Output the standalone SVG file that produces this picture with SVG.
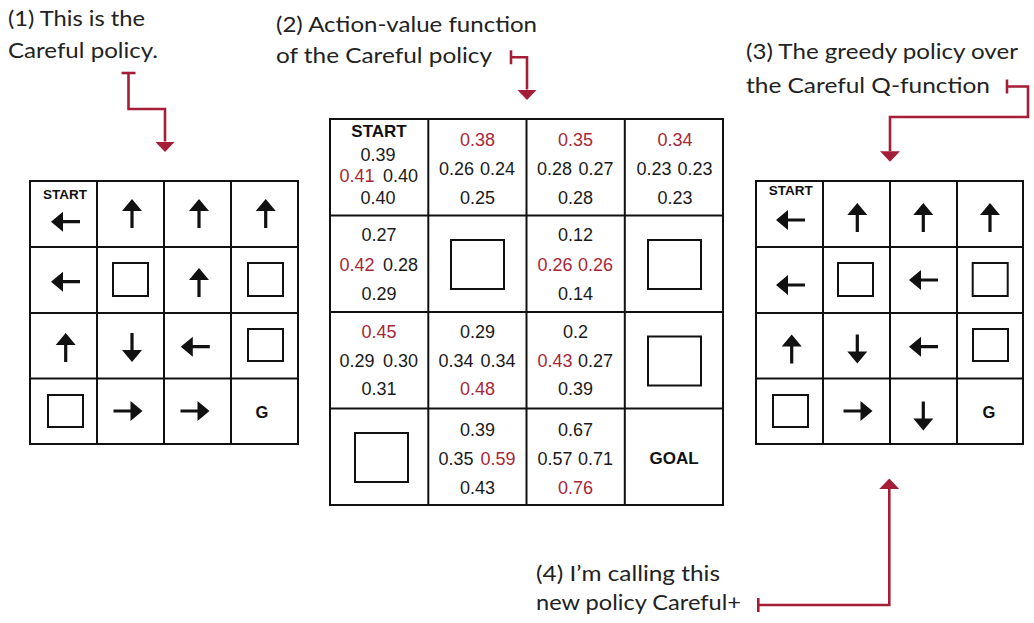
<svg xmlns="http://www.w3.org/2000/svg" xmlns:xlink="http://www.w3.org/1999/xlink" width="1034" height="623" viewBox="0 0 1034 623">
<style>
.note{font-family:Lato,"Noto Sans",sans-serif;font-size:21px;fill:#222}
.grid{fill:#fff;stroke:#111;stroke-width:2}
.gl{stroke:#111;stroke-width:2;fill:none}
.obs{fill:#fff;stroke:#111;stroke-width:2}
.num{font-family:"Liberation Sans",Arial,sans-serif;font-size:18px;fill:#1a1a1a;text-anchor:middle}
.red{fill:#A82739}
.lbl{font-family:"Liberation Sans",Arial,sans-serif;font-weight:bold;fill:#111;text-anchor:middle}
.conn{fill:none;stroke:#A51E37;stroke-width:2.6}
.arw{fill:#111}
</style>
<defs>
<path id="ar" d="M0,-14.5 L10,-2.5 L1.6,-2.5 L1.6,14.5 L-1.6,14.5 L-1.6,-2.5 L-10,-2.5 Z"/>
<marker id="head" markerUnits="userSpaceOnUse" viewBox="0 0 10.5 20" refX="0" refY="10" markerWidth="10.5" markerHeight="20" orient="auto">
<path d="M0,0 L10.5,10 L0,20 Z" fill="#A51E37"/>
</marker>
<marker id="tee" markerUnits="userSpaceOnUse" viewBox="-2 -8 4 16" refX="0" refY="0" markerWidth="4" markerHeight="16" orient="auto">
<path d="M0,-7 L0,7" stroke="#A51E37" stroke-width="2.6"/>
</marker>
</defs>
<rect width="1034" height="623" fill="#fff"/>

<g id="note1">
<text class="note" x="8" y="26" textLength="137" lengthAdjust="spacingAndGlyphs">(1) This is the</text>
<text class="note" x="8" y="58" textLength="150" lengthAdjust="spacingAndGlyphs">Careful policy.</text>
</g>
<g id="note2">
<text class="note" x="276" y="32" textLength="261" lengthAdjust="spacingAndGlyphs">(2) Action-value function</text>
<text class="note" x="276" y="63" textLength="216" lengthAdjust="spacingAndGlyphs">of the Careful policy</text>
</g>
<g id="note3">
<text class="note" x="746" y="59" textLength="272" lengthAdjust="spacingAndGlyphs">(3) The greedy policy over</text>
<text class="note" x="746" y="92.5" textLength="244" lengthAdjust="spacingAndGlyphs">the Careful Q-function</text>
</g>
<g id="note4">
<text class="note" x="536" y="581" textLength="184" lengthAdjust="spacingAndGlyphs">(4) I’m calling this</text>
<text class="note" x="536" y="610" textLength="205" lengthAdjust="spacingAndGlyphs">new policy Careful+</text>
</g>

<g id="connectors">
<path class="conn" marker-start="url(#tee)" marker-end="url(#head)" d="M128.5,73 V109 H165 V141.5"/>
<path class="conn" marker-start="url(#tee)" marker-end="url(#head)" d="M511,57.3 H527 V89.5"/>
<path class="conn" marker-start="url(#tee)" marker-end="url(#head)" d="M1007,86.5 H1028 V117 H890 V151.2"/>
<path class="conn" marker-start="url(#tee)" marker-end="url(#head)" d="M758.3,605 H889.3 V489"/>
</g>

<g id="careful-policy">
<rect class="grid" x="30" y="181" width="268" height="263"/>
<path class="gl" d="M97,181 V444 M164,181 V444 M231,181 V444 M30,247 H298 M30,313 H298 M30,378.5 H298"/>
<text class="lbl" x="65" y="199" font-size="13.5">START</text>
<text class="lbl" x="262" y="417.5" font-size="16.5">G</text>
<rect class="obs" x="113" y="263" width="35" height="33"/>
<rect class="obs" x="248" y="263" width="35" height="33"/>
<rect class="obs" x="248" y="329" width="35" height="32"/>
<rect class="obs" x="48" y="395" width="35" height="32"/>
<g class="arw">
<use xlink:href="#ar" transform="translate(65.5,221.7) rotate(-90)"/>
<use xlink:href="#ar" transform="translate(132,213.5)"/>
<use xlink:href="#ar" transform="translate(199,213.5)"/>
<use xlink:href="#ar" transform="translate(265.7,213.5)"/>
<use xlink:href="#ar" transform="translate(65.5,281.7) rotate(-90)"/>
<use xlink:href="#ar" transform="translate(199,282.5)"/>
<use xlink:href="#ar" transform="translate(65.7,347.5)"/>
<use xlink:href="#ar" transform="translate(132,347.5) rotate(180)"/>
<use xlink:href="#ar" transform="translate(195.3,346.7) rotate(-90)"/>
<use xlink:href="#ar" transform="translate(128,411) rotate(90)"/>
<use xlink:href="#ar" transform="translate(195,411) rotate(90)"/>
</g>
</g>

<g id="q-function">
<rect class="grid" x="330" y="119" width="393" height="386"/>
<path class="gl" d="M428.3,119 V505 M526.5,119 V505 M624.8,119 V505 M330,215.5 H723 M330,312 H723 M330,408.5 H723"/>
<g id="q00">
<text class="lbl" x="379" y="137" font-size="17">START</text>
<text class="num" x="378" y="160.8">0.39</text>
<text class="num red" x="357" y="182.2">0.41</text>
<text class="num" x="400.5" y="182.2">0.40</text>
<text class="num" x="378" y="204.2">0.40</text>
</g>
<g id="q01">
<text class="num red" x="477.4" y="145.8">0.38</text>
<text class="num" x="456.4" y="174.8">0.26</text>
<text class="num" x="497.4" y="174.8">0.24</text>
<text class="num" x="477.4" y="204.2">0.25</text>
</g>
<g id="q02">
<text class="num red" x="575.6" y="145.8">0.35</text>
<text class="num" x="554.6" y="174.8">0.28</text>
<text class="num" x="596" y="174.8">0.27</text>
<text class="num" x="575.6" y="204.2">0.28</text>
</g>
<g id="q03">
<text class="num red" x="675" y="145.8">0.34</text>
<text class="num" x="654" y="174.8">0.23</text>
<text class="num" x="695" y="174.8">0.23</text>
<text class="num" x="675" y="204.2">0.23</text>
</g>
<g id="q10">
<text class="num" x="379" y="240.5">0.27</text>
<text class="num red" x="357" y="270.5">0.42</text>
<text class="num" x="400.5" y="270.5">0.28</text>
<text class="num" x="379" y="299.8">0.29</text>
</g>
<g id="q11"><rect class="obs" x="451" y="240" width="53" height="49"/></g>
<g id="q12">
<text class="num" x="575.6" y="240.5">0.12</text>
<text class="num red" x="555" y="270.5">0.26</text>
<text class="num red" x="595.6" y="270.5">0.26</text>
<text class="num" x="575.6" y="299.8">0.14</text>
</g>
<g id="q13"><rect class="obs" x="648" y="240" width="53" height="49"/></g>
<g id="q20">
<text class="num red" x="379" y="337.5">0.45</text>
<text class="num" x="357" y="366.5">0.29</text>
<text class="num" x="400.5" y="366.5">0.30</text>
<text class="num" x="379" y="394.5">0.31</text>
</g>
<g id="q21">
<text class="num" x="477.4" y="337.5">0.29</text>
<text class="num" x="456" y="366.5">0.34</text>
<text class="num" x="498" y="366.5">0.34</text>
<text class="num red" x="477.4" y="394.5">0.48</text>
</g>
<g id="q22">
<text class="num" x="575.6" y="337.5">0.2</text>
<text class="num red" x="555" y="366.5">0.43</text>
<text class="num" x="595.6" y="366.5">0.27</text>
<text class="num" x="575.6" y="394.5">0.39</text>
</g>
<g id="q23"><rect class="obs" x="648" y="336.5" width="53" height="49"/></g>
<g id="q30"><rect class="obs" x="355" y="433" width="53" height="49"/></g>
<g id="q31">
<text class="num" x="477.4" y="435.5">0.39</text>
<text class="num" x="456" y="464.8">0.35</text>
<text class="num red" x="498" y="464.8">0.59</text>
<text class="num" x="477.4" y="494.2">0.43</text>
</g>
<g id="q32">
<text class="num" x="575.6" y="435.5">0.67</text>
<text class="num" x="555" y="464.8">0.57</text>
<text class="num" x="595.6" y="464.8">0.71</text>
<text class="num red" x="575.6" y="494.2">0.76</text>
</g>
<g id="q33"><text class="lbl" x="674" y="464" font-size="17">GOAL</text></g>
</g>

<g id="careful-plus-policy">
<rect class="grid" x="756" y="181" width="267" height="263"/>
<path class="gl" d="M823,181 V444 M890,181 V444 M957,181 V444 M756,247 H1023 M756,313 H1023 M756,378.5 H1023"/>
<text class="lbl" x="790.7" y="195" font-size="13.5">START</text>
<text class="lbl" x="989" y="417.5" font-size="16.5">G</text>
<rect class="obs" x="838" y="263" width="35" height="33"/>
<rect class="obs" x="972.7" y="263" width="35" height="33"/>
<rect class="obs" x="973" y="329" width="35" height="32"/>
<rect class="obs" x="773" y="395" width="35" height="32"/>
<g class="arw">
<use xlink:href="#ar" transform="translate(790.5,220) rotate(-90)"/>
<use xlink:href="#ar" transform="translate(857.3,217.5)"/>
<use xlink:href="#ar" transform="translate(923.3,217.5)"/>
<use xlink:href="#ar" transform="translate(990,217.5)"/>
<use xlink:href="#ar" transform="translate(790.5,285) rotate(-90)"/>
<use xlink:href="#ar" transform="translate(923.5,280) rotate(-90)"/>
<use xlink:href="#ar" transform="translate(791.7,349)"/>
<use xlink:href="#ar" transform="translate(857.3,349) rotate(180)"/>
<use xlink:href="#ar" transform="translate(923.5,346.7) rotate(-90)"/>
<use xlink:href="#ar" transform="translate(858,411) rotate(90)"/>
<use xlink:href="#ar" transform="translate(923.3,416) rotate(180)"/>
</g>
</g>
</svg>
